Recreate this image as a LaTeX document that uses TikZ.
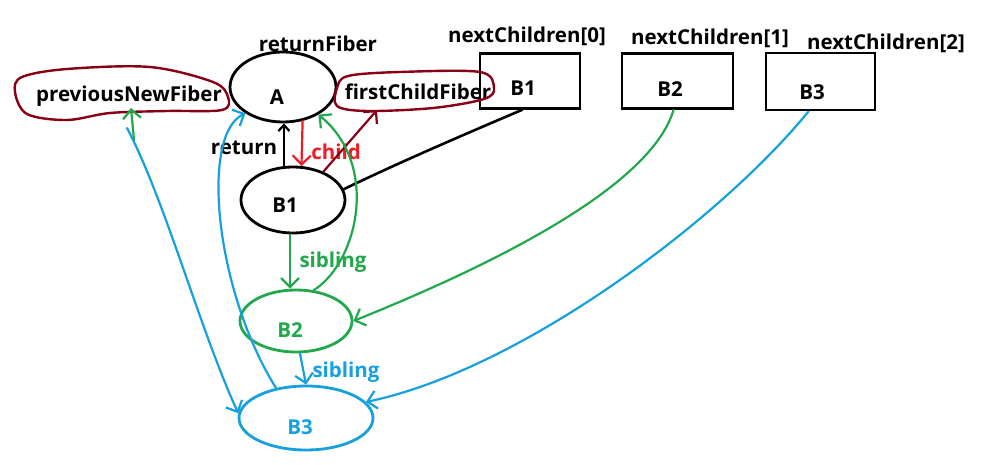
\documentclass[tikz,border=0pt]{standalone}
\usepackage{fontspec}
\setmainfont{Open Sans}
\usetikzlibrary{shapes.geometric,arrows.meta,calc}
\definecolor{pgreen}{RGB}{34,168,76}
\definecolor{pblue}{RGB}{22,160,222}
\definecolor{pred}{RGB}{237,28,36}
\definecolor{pmaroon}{RGB}{136,0,21}
\begin{document}
\begin{tikzpicture}[x=1pt,y=-1pt,
  fib/.style={ellipse, draw, line width=2.8pt, inner sep=0pt},
  nbox/.style={draw, line width=2.8pt, inner sep=0pt},
  txt/.style={font=\fontsize{20.5}{22}\selectfont\bfseries, inner sep=0pt},
  conn/.style={line width=2.2pt, line cap=round, line join=round},
  arr/.style={conn, -{Straight Barb[length=9pt,width=18pt]}},
  sarr/.style={conn, -{Straight Barb[length=6pt,width=11pt]}},
  loopline/.style={draw=pmaroon, line width=2.4pt}
]
\fill[white] (0,0) rectangle (991,465);
\useasboundingbox (0,0) rectangle (991,465);

% ellipses
\node[fib, minimum width=106pt, minimum height=70pt] (A) at (283,87) {};
\node[fib, minimum width=104pt, minimum height=66pt] (B1) at (293,200) {};
\node[fib, draw=pgreen, minimum width=112pt, minimum height=62pt] (B2) at (296,321) {};
\node[fib, draw=pblue, minimum width=134pt, minimum height=64pt] (B3) at (306,418) {};

\node[txt] at (277,97) {A};
\node[txt] at (285,205) {B1};
\node[txt, text=pgreen] at (290,330) {B2};
\node[txt, text=pblue] at (300,427) {B3};

% boxes
\node[nbox, minimum width=100pt, minimum height=55pt] (bb1) at (530,81) {};
\node[nbox, minimum width=111pt, minimum height=55pt] (bb2) at (677.5,81) {};
\node[nbox, minimum width=109pt, minimum height=57pt] (bb3) at (820.5,81.5) {};
\node[txt] at (523,88) {B1};
\node[txt] at (670,89) {B2};
\node[txt] at (812,92) {B3};

% top labels
\node[txt] at (318,44) {returnFiber};
\node[txt] at (527,36) {nextChildren[0]};
\node[txt] at (710,38) {nextChildren[1]};
\node[txt] at (886,43) {nextChildren[2]};

% previousNewFiber / firstChildFiber
\node[txt] (pnf) at (129,96) {previousNewFiber};
\node[txt] (fcf) at (418,92) {firstChildFiber};
\draw[loopline] plot[smooth cycle, tension=0.55] coordinates {(15,92) (22,77) (67,69) (150,67) (213,82) (228,97) (222,110) (167,111) (110,113) (67,120) (27,114)};
\draw[loopline] plot[smooth cycle, tension=0.55] coordinates {(337,88) (348,76) (400,72) (480,72) (494,88) (484,99) (433,108) (367,111) (337,106)};

\coordinate (fcfin) at (377,110);
\coordinate (pnfin) at (131,108);
\coordinate (pnfout) at (127,128);
\coordinate (gtail) at (134,140);

% edge labels
\node[txt] at (244,148) {return};
\node[txt, text=pred] at (336,152) {child};
\node[txt, text=pgreen] at (333,262) {sibling};
\node[txt, text=pblue] at (346,372) {sibling};

% connectors
\draw[sarr] (B1.105) -- (B1.105 |- A.south);
\draw[arr, pred] (A.300) -- (B1.76);
\draw[arr, pmaroon] (B1.43) -- (fcfin);
\draw[conn, line width=2.6pt] ($(bb1.south)+(-8,0)$) .. controls (470,132) and (400,162) .. (B1.12);
\draw[arr, pgreen] (B1.265) -- (B1.265 |- B2.north);
\draw[arr, pgreen] (B2.60) .. controls (358,262) and (380,165) .. (A.322);
\draw[arr, pgreen] ($(bb2.south)+(-4,0)$) .. controls (650,190) and (480,270) .. (B2.east);
\draw[arr, pgreen] (gtail) -- (pnfin);
\draw[arr, pblue] (B2.277) -- (B3.north);
\draw[arr, pblue] (B3.135) .. controls (215,290) and (200,135) .. (A.215);
\draw[arr, pblue] (pnfout) .. controls (165,200) and (200,330) .. (B3.176);
\draw[arr, pblue] ($(bb3.south)+(-12,0)$) .. controls (720,220) and (520,370) .. (B3.15);
\end{tikzpicture}
\end{document}
